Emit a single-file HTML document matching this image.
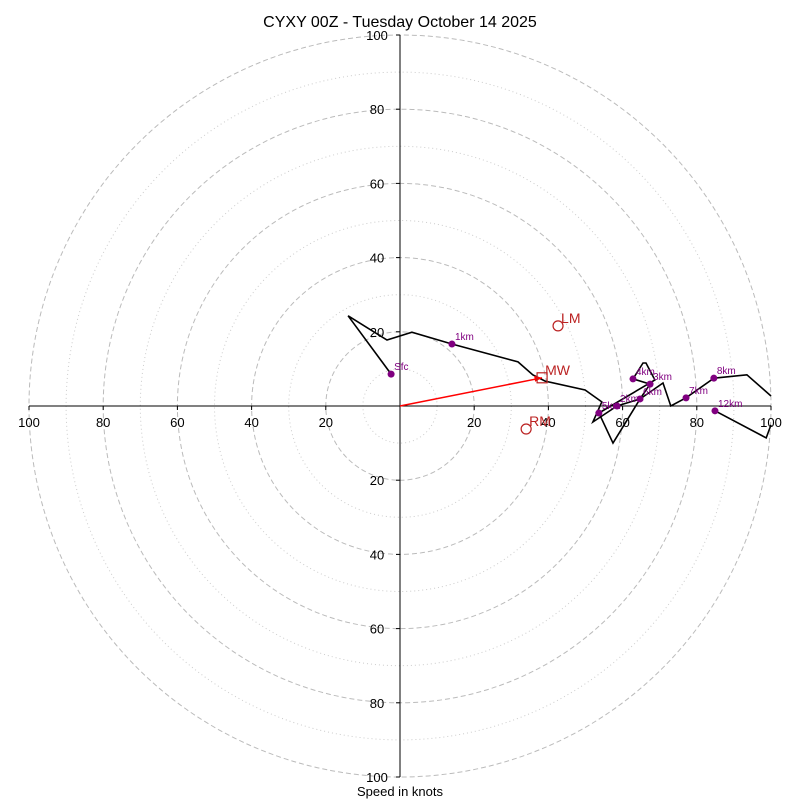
<!DOCTYPE html>
<html><head><meta charset="utf-8"><style>
body{margin:0;background:#fff;font-family:"Liberation Sans",sans-serif}
svg text{font-family:"Liberation Sans",sans-serif}
</style></head><body>
<svg id="c" width="800" height="800" viewBox="0 0 800 800">
<text x="400" y="27" text-anchor="middle" font-size="16">CYXY 00Z - Tuesday October 14 2025</text>
<text x="400" y="796" text-anchor="middle" font-size="13">Speed in knots</text>
<g id="rings"></g><g id="axes"></g><g id="series"></g>
</svg>
<script>
const cx=400, cy=406, sc=3.71;
const ringVals=[10,20,30,40,50,60,70,80,90,100];
const tickVals=[20,40,60,80,100];
const pathU=[-2.4,-14.0,-3.5,3.2,14.0,31.8,35.8,39.1,49.9,54.4,52.0,58.5,64.7,67.4,62.8,65.5,66.3,68.7,53.6,57.4,64.7,70.9,73.0,77.1,84.6,93.5,100,null,84.9,98.7,100];
const pathV=[8.6,24.3,17.8,19.9,16.7,11.9,8.4,6.7,4.3,1.1,-4.3,0,1.9,5.9,7.3,11.6,11.6,7.0,-1.9,-10.0,1.9,6.2,0,2.2,7.5,8.4,2.7,null,-1.3,-8.6,-5.1];
const markLabels=["Sfc","1km","2km","3km","4km","5km","6km","7km","8km","12km"];
const markU=[-2.4,14.0,58.5,67.4,62.8,53.6,64.7,77.1,84.6,84.9];
const markV=[8.6,16.7,0,5.9,7.3,-1.9,1.9,2.2,7.5,-1.3];
const mwU=38.3, mwV=7.6, lmU=42.6, lmV=21.6, rmU=34.0, rmV=-6.2;
const X=u=>cx+u*sc, Y=v=>cy-v*sc;
const NS="http://www.w3.org/2000/svg";
function mk(t,p,a){const e=document.createElementNS(NS,t);for(const k in a)e.setAttribute(k,a[k]);p.appendChild(e);return e;}
const rings=document.getElementById('rings'),axes=document.getElementById('axes'),ser=document.getElementById('series');
ringVals.forEach(r=>{const major=r%20===0;
const c=mk('circle',rings,{cx:cx,cy:cy,r:r*sc,fill:'none',stroke:major?'#bbb':'#ccc','stroke-width':1,'stroke-dasharray':major?'5,3':'1,3'});

});
let l=mk('line',axes,{x1:X(-100),y1:cy,x2:X(100),y2:cy,stroke:'#000'});


l=mk('line',axes,{x1:cx,y1:Y(100),x2:cx,y2:Y(-100),stroke:'#000'});


tickVals.forEach(t=>{[1,-1].forEach(s=>{
let tx=mk('text',axes,{x:X(s*t),y:cy+21,'text-anchor':'middle','font-size':13});tx.textContent=t;


mk('line',axes,{x1:X(s*t),y1:cy,x2:X(s*t),y2:cy+4,stroke:'#000'});
let ty=mk('text',axes,{x:cx-23,y:Y(s*t)+5,'text-anchor':'middle','font-size':13});ty.textContent=t;


mk('line',axes,{x1:cx-4,y1:Y(s*t),x2:cx,y2:Y(s*t),stroke:'#000'});});});
let d='',pen=false;
pathU.forEach((u,i)=>{if(u===null){pen=false;return;}d+=(pen?'L':'M')+X(u).toFixed(1)+','+Y(pathV[i]).toFixed(1);pen=true;});
const p=mk('path',ser,{d:d,fill:'none',stroke:'#000','stroke-width':1.6});


markU.forEach((u,i)=>{const c=mk('circle',ser,{cx:X(u),cy:Y(markV[i]),r:3.5,fill:'purple'});


const t=mk('text',ser,{x:X(u)+3,y:Y(markV[i])-4,'font-size':10,fill:'purple'});t.textContent=markLabels[i];

});
const ar=mk('line',ser,{x1:cx,y1:cy,x2:X(mwU),y2:Y(mwV),stroke:'red','stroke-width':1.5});


const hd=mk('polygon',ser,{points:`${X(mwU)},${Y(mwV)} ${X(mwU)-8},${Y(mwV)-2} ${X(mwU)-7},${Y(mwV)+4}`,fill:'red'});


const sq=mk('rect',ser,{x:X(mwU)-5,y:Y(mwV)-5,width:10,height:10,fill:'none',stroke:'#b22','stroke-width':1.2});


[[mwU,mwV,'MW',3],[lmU,lmV,'LM',3],[rmU,rmV,'RM',3]].forEach(a=>{
if(a[2]!=='MW'){const c=mk('circle',ser,{cx:X(a[0]),cy:Y(a[1]),r:5,fill:'none',stroke:'#b22','stroke-width':1.2});

}
const t=mk('text',ser,{x:X(a[0])+a[3],y:Y(a[1])-3,'font-size':14,fill:'#b22'});t.textContent=a[2];

});
</script>
</body></html>
